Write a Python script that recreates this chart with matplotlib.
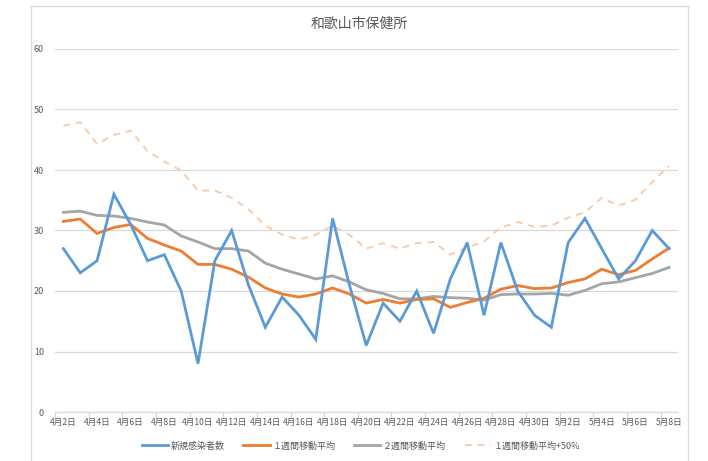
import matplotlib
matplotlib.use("Agg")
import matplotlib.pyplot as plt
from matplotlib.lines import Line2D

plt.rcParams['font.family'] = ['Noto Sans CJK JP', 'DejaVu Sans']

title = "和歌山市保健所"
dates = ["4月2日", "4月3日", "4月4日", "4月5日", "4月6日", "4月7日", "4月8日", "4月9日",
         "4月10日", "4月11日", "4月12日", "4月13日", "4月14日", "4月15日", "4月16日",
         "4月17日", "4月18日", "4月19日", "4月20日", "4月21日", "4月22日", "4月23日",
         "4月24日", "4月25日", "4月26日", "4月27日", "4月28日", "4月29日", "4月30日",
         "5月1日", "5月2日", "5月3日", "5月4日", "5月5日", "5月6日", "5月7日", "5月8日"]

new_cases = [27, 23, 25, 36, 31, 25, 26, 20, 8, 25, 30, 21, 14, 19, 16, 12, 32, 21,
             11, 18, 15, 20, 13, 22, 28, 16, 28, 20, 16, 14, 28, 32, 27, 22, 25, 30, 27]

avg_1w = [31.5, 31.9, 29.5, 30.5, 31.0, 28.7, 27.6, 26.6, 24.4, 24.4, 23.6, 22.3, 20.5,
          19.5, 19.0, 19.5, 20.5, 19.5, 18.0, 18.6, 18.0, 18.6, 18.7, 17.3, 18.1, 18.8,
          20.3, 20.9, 20.4, 20.5, 21.4, 22.0, 23.6, 22.7, 23.4, 25.3, 27.1]

avg_2w = [33.0, 33.2, 32.5, 32.4, 32.0, 31.4, 30.9, 29.1, 28.1, 27.0, 27.0, 26.6, 24.6,
          23.6, 22.8, 22.0, 22.5, 21.5, 20.2, 19.6, 18.7, 18.7, 19.1, 18.9, 18.8, 18.5,
          19.4, 19.5, 19.5, 19.6, 19.3, 20.1, 21.2, 21.5, 22.2, 22.9, 23.9]

avg_1w_plus50 = [47.3, 47.9, 44.3, 45.8, 46.5, 43.1, 41.4, 39.9, 36.6, 36.6, 35.4, 33.5,
                 30.8, 29.3, 28.5, 29.3, 30.8, 29.3, 27.0, 27.9, 27.0, 27.9, 28.1, 26.0,
                 27.2, 28.2, 30.5, 31.4, 30.6, 30.8, 32.1, 33.0, 35.4, 34.1, 35.1, 38.0,
                 40.7]

labels = ["新規感染者数", "１週間移動平均", "２週間移動平均", "１週間移動平均+50%"]

W, H = 708, 461
fig = plt.figure(figsize=(W / 100, H / 100), dpi=100)
fig.patch.set_facecolor("white")

ax = fig.add_axes([55 / W, 1 - 412 / H, (677.5 - 55) / W, (412 - 49) / H])

x = list(range(len(dates)))
l1, = ax.plot(x, new_cases, color="#5B9BD5", lw=2.0, solid_joinstyle="miter", zorder=5)
l2, = ax.plot(x, avg_1w, color="#ED7D31", lw=2.0, zorder=4)
l3, = ax.plot(x, avg_2w, color="#A5A5A5", lw=2.0, zorder=3)
l4, = ax.plot(x, avg_1w_plus50, color="#F8CBAD", lw=1.4, dashes=(3.5, 3), zorder=2)

ax.set_xlim(-0.5, len(dates) - 0.5)
ax.set_ylim(0, 60)
ax.set_yticks(range(0, 61, 10))
ax.yaxis.grid(True, color="#D9D9D9", lw=0.9)
ax.set_axisbelow(True)

# tick marks at category boundaries, labels at every other category
ax.set_xticks([i - 0.5 for i in range(0, len(dates) + 1, 2)])
ax.set_xticklabels([])
ax.set_xticks(x[::2], minor=True)
ax.set_xticklabels(dates[::2], minor=True)
ax.tick_params(axis="x", which="major", length=4, color="#D9D9D9", width=0.9)
ax.tick_params(axis="x", which="minor", length=0, pad=4, labelsize=6.2, labelcolor="#595959")
ax.tick_params(axis="y", length=0, pad=8, labelsize=6.5, labelcolor="#595959")

for s in ["top", "right", "left"]:
    ax.spines[s].set_visible(False)
ax.spines["bottom"].set_color("#D9D9D9")
ax.spines["bottom"].set_linewidth(0.9)

fig.text(359.5 / W, 1 - 24 / H, title, ha="center", va="center", fontsize=10, color="#595959")

# outer chart frame
fx0, fx1, fy0 = 31 / W, 688 / W, 1 - 6 / H
for xs, ys in [([fx0, fx0], [fy0, -0.1]), ([fx1, fx1], [fy0, -0.1]), ([fx0, fx1], [fy0, fy0])]:
    fig.add_artist(Line2D(xs, ys, color="#D9D9D9", lw=0.9, transform=fig.transFigure))

fig.legend([l1, l2, l3, l4], labels, loc="center", bbox_to_anchor=(361 / W, 1 - 446 / H),
           ncol=4, frameon=False, fontsize=6.5, labelcolor="#595959", handlelength=2.9,
           columnspacing=2.1, handletextpad=0.3)

fig.savefig("out.png", dpi=100)
